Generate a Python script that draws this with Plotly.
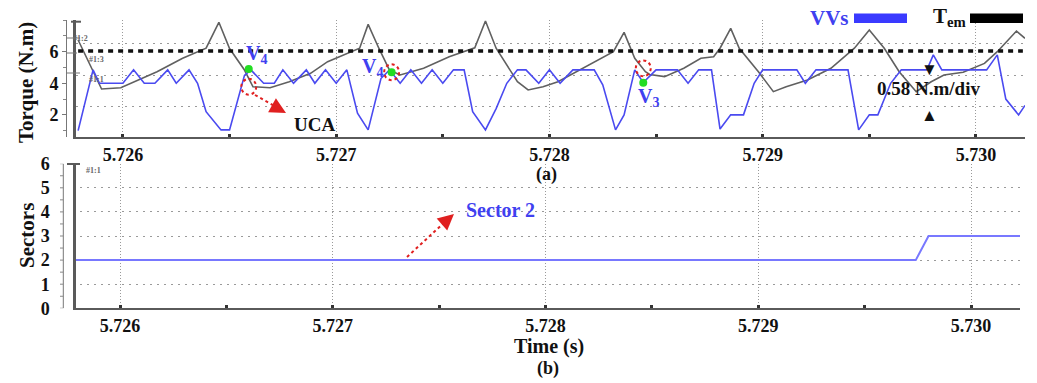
import plotly.graph_objects as go

W, H = 1037, 383

# ---- data -------------------------------------------------------------
# Voltage vectors applied (scaled onto the torque axis)
vvs_t = [5.72579, 5.72586, 5.72589, 5.72600, 5.72605, 5.72610, 5.72615, 5.72621,
         5.72625, 5.72631, 5.72635, 5.72639, 5.72646, 5.72650, 5.72657, 5.72660,
         5.72666, 5.72671, 5.72675, 5.72680, 5.72686, 5.72690, 5.72695, 5.72700,
         5.72705, 5.72710, 5.72715, 5.72721, 5.72725, 5.72730, 5.72735, 5.72740,
         5.72745, 5.72750, 5.72755, 5.72760, 5.72764, 5.72770, 5.72775, 5.72780,
         5.72785, 5.72789, 5.72795, 5.72800, 5.72805, 5.72811, 5.72821, 5.72825,
         5.72831, 5.72835, 5.72840, 5.72844, 5.72850, 5.72860, 5.72865, 5.72870,
         5.72876, 5.72880, 5.72885, 5.72891, 5.72896, 5.72900, 5.72916, 5.72920,
         5.72925, 5.72940, 5.72945, 5.72950, 5.72954, 5.72960, 5.72965, 5.72977,
         5.72980, 5.72984, 5.73005, 5.73010, 5.73014, 5.73020, 5.73023]
vvs_val = [1.0, 4.85, 4.0, 4.0, 4.85, 4.0, 4.0, 4.85,
           4.0, 4.85, 4.0, 2.2, 1.05, 1.05, 4.5, 4.85,
           4.0, 4.0, 4.85, 4.0, 4.85, 4.0, 4.85, 4.0,
           4.85, 2.1, 1.05, 4.3, 4.85, 4.0, 4.85, 4.0,
           4.85, 4.0, 4.85, 4.85, 2.2, 1.05, 2.4, 4.0,
           4.85, 4.85, 4.0, 4.85, 4.0, 4.85, 4.85, 3.9,
           1.05, 2.0, 4.85, 4.05, 4.85, 4.85, 4.0, 4.85,
           4.85, 1.1, 2.0, 2.0, 4.0, 4.85, 4.85, 4.0,
           4.85, 4.85, 1.05, 2.0, 2.0, 4.0, 4.85, 4.85,
           5.8, 4.85, 4.85, 5.8, 3.0, 2.0, 2.6]

# Electromagnetic torque
tem_t = [5.72579, 5.72590, 5.72599, 5.72607, 5.72616, 5.72622, 5.72628, 5.72639,
         5.72645, 5.72650, 5.72657, 5.72661, 5.72669, 5.72678, 5.72688, 5.72696,
         5.72711, 5.72715, 5.72720, 5.72725, 5.72730, 5.72741, 5.72753, 5.72765,
         5.72770, 5.72775, 5.72785, 5.72790, 5.72797, 5.72804, 5.72810, 5.72819,
         5.72830, 5.72835, 5.72840, 5.72845, 5.72847, 5.72854, 5.72863, 5.72871,
         5.72877, 5.72880, 5.72885, 5.72889, 5.72898, 5.72905, 5.72911, 5.72921,
         5.72932, 5.72943, 5.72950, 5.72957, 5.72964, 5.72972, 5.72979, 5.72985,
         5.72994, 5.73004, 5.73010, 5.73019, 5.73023]
tem_val = [6.74, 3.64, 3.72, 4.21, 4.73, 5.16, 5.58, 6.22,
           7.86, 6.2, 4.84, 3.78, 3.72, 4.1, 4.63, 5.37,
           6.22, 7.73, 6.22, 4.84, 4.53, 4.95, 5.68, 6.25,
           7.94, 6.22, 4.1, 3.58, 3.78, 4.1, 4.53, 5.16,
           6.0, 7.22, 5.58, 4.73, 4.56, 4.42, 4.95, 5.58,
           5.68, 6.22, 7.48, 6.22, 4.73, 3.47, 3.78, 4.21,
           4.95, 6.22, 7.37, 6.22, 4.73, 3.47, 4.1, 4.53,
           4.7, 5.26, 6.0, 7.31, 6.85]

# Torque reference
ref_t = [5.72579, 5.73022]
ref_val = [6.04, 6.04]

# Sector number
sector_t = [5.72578, 5.72974, 5.72980, 5.73023]
sector_val = [2, 2, 3, 3]

# Highlighted switching instants
pt_t = [5.72659, 5.72726, 5.72844]
pt_val = [4.9, 4.7, 4.04]
ring_t = [5.72659, 5.72726, 5.72844]
ring_val = [3.78, 4.7, 4.95]

x_range = [5.72578, 5.73023]
torque_range = [0.6, 8.0]
torque_grid = [2.52, 4.52, 6.52]
torque_labels = [2, 4, 6]
sector_range = [0, 6]
sector_labels = [0, 1, 2, 3, 4, 5, 6]

# ---- helpers ----------------------------------------------------------
def px(x):
    return x / W


def py(y):
    return 1 - y / H


FONT = "Liberation Serif"
BLUE = "#4040f0"
AXIS = "#5a5a5a"
GRID = "#9a9a9a"

fig = go.Figure()

fig.add_trace(go.Scatter(x=tem_t, y=tem_val, mode="lines",
                         line=dict(color="#606060", width=1.6),
                         hoverinfo="skip", showlegend=False))
fig.add_trace(go.Scatter(x=vvs_t, y=vvs_val, mode="lines",
                         line=dict(color="#4a4af0", width=1.6),
                         hoverinfo="skip", showlegend=False))
fig.add_trace(go.Scatter(x=ref_t, y=ref_val, mode="lines", yaxis="y3",
                         line=dict(color="#111111", width=3.4, dash="5px,5px"),
                         hoverinfo="skip", showlegend=False))
fig.add_trace(go.Scatter(x=pt_t, y=pt_val, mode="markers",
                         marker=dict(color="#22dd22", size=8),
                         hoverinfo="skip", showlegend=False, cliponaxis=False))
fig.add_trace(go.Scatter(x=sector_t, y=sector_val, mode="lines",
                         xaxis="x2", yaxis="y2",
                         line=dict(color="#7878ff", width=2),
                         hoverinfo="skip", showlegend=False))

tickfont = dict(family=FONT, size=18, color="#111111", weight="bold")

xcommon = dict(range=x_range, tickmode="linear", tick0=5.726, dtick=0.001,
               tickformat=".3f", tickfont=tickfont, showgrid=True,
               gridcolor=GRID, griddash="1px,2px", gridwidth=1,
               showline=True, linecolor=AXIS, linewidth=2,
               ticks="inside", ticklen=3, tickwidth=3, tickcolor="#333333",
               minor=dict(dtick=0.0005, ticks="inside", ticklen=3, tickwidth=3,
                          tickcolor="#333333", showgrid=False),
               zeroline=False, fixedrange=True, automargin=False)

fig.update_layout(
    width=W, height=H,
    margin=dict(l=0, r=0, t=0, b=0, autoexpand=False),
    paper_bgcolor="white", plot_bgcolor="white",
    showlegend=False,
    xaxis=dict(domain=[px(76), px(1025)], anchor="y", **xcommon),
    yaxis=dict(domain=[py(137), py(20.1)], range=torque_range, tickmode="array",
               tickvals=torque_grid, showticklabels=False, ticks="",
               showgrid=True, gridcolor=GRID, griddash="2px,5px", gridwidth=1.2,
               showline=True, linecolor=AXIS, linewidth=2.5, zeroline=False,
               fixedrange=True, automargin=False),
    yaxis3=dict(overlaying="y", anchor="free", position=px(66), range=torque_range,
                tickmode="array", tickvals=torque_labels, tickfont=tickfont,
                showgrid=False, showline=True, linecolor="#777777", linewidth=1,
                ticks="outside", ticklen=4, tickcolor="#777777",
                minor=dict(dtick=1, ticks="outside", ticklen=3, tickcolor="#888888"),
                zeroline=False, fixedrange=True, automargin=False),
    xaxis2=dict(domain=[px(73.3), px(1020)], anchor="y2", **xcommon),
    yaxis2=dict(domain=[py(308.3), py(163.7)], range=sector_range, tickmode="array",
                tickvals=sector_labels, tickfont=tickfont, ticks="",
                ticklabelstandoff=20,
                showgrid=True, gridcolor=GRID, griddash="2px,5px", gridwidth=1.2,
                showline=True, linecolor=AXIS, linewidth=2.5, zeroline=False,
                fixedrange=True, automargin=False),
)

shapes = []
# caps on the channel markers
shapes.append(dict(type="line", xref="paper", yref="paper", x0=px(71), x1=px(81),
                   y0=py(21.7), y1=py(21.7), line=dict(color=AXIS, width=2)))
shapes.append(dict(type="line", xref="paper", yref="paper", x0=px(67), x1=px(80),
                   y0=py(164), y1=py(164), line=dict(color=AXIS, width=2)))
# thin scale line of the sector channel with its half-step ticks
shapes.append(dict(type="line", xref="paper", yref="y2", x0=px(63.3), x1=px(63.3),
                   y0=sector_range[0], y1=sector_range[1],
                   line=dict(color="#777777", width=1)))
for k in range(2 * sector_range[1] + 1):
    shapes.append(dict(type="line", xref="paper", yref="y2", x0=px(60), x1=px(63.3),
                       y0=k / 2, y1=k / 2, line=dict(color="#888888", width=1)))
# cursor ticks
for yy, x1 in [(38, 80), (53, 77), (73, 80)]:
    shapes.append(dict(type="line", xref="paper", yref="paper", x0=px(66), x1=px(x1),
                       y0=py(yy), y1=py(yy), line=dict(color="#777777", width=1)))
# dashed rings around switching instants
rx, ry = 0.0000350, 0.50
for t, v in zip(ring_t, ring_val):
    shapes.append(dict(type="circle", xref="x", yref="y", x0=t - rx, x1=t + rx,
                       y0=v - ry, y1=v + ry, line=dict(color="#e02020", width=2, dash="dot")))
# dashed arrow shafts
shapes.append(dict(type="line", xref="paper", yref="paper", x0=px(255), y0=py(95),
                   x1=px(280), y1=py(109), line=dict(color="#e02020", width=2, dash="dot")))
shapes.append(dict(type="line", xref="paper", yref="paper", x0=px(407), y0=py(257),
                   x1=px(447), y1=py(220), line=dict(color="#e02020", width=2, dash="dot")))
# legend swatches
shapes.append(dict(type="rect", xref="paper", yref="paper", x0=px(854), x1=px(907),
                   y0=py(23), y1=py(13.5), line=dict(width=0), fillcolor="#3a3aff"))
shapes.append(dict(type="rect", xref="paper", yref="paper", x0=px(970), x1=px(1023),
                   y0=py(23), y1=py(13.5), line=dict(width=0), fillcolor="#000000"))
fig.update_layout(shapes=shapes)

ann = []


def text(x, y, s, size=18, color="#111111", bold=True, xanchor="center", **kw):
    ann.append(dict(x=px(x), y=py(y), xref="paper", yref="paper",
                    text=("<b>%s</b>" % s) if bold else s,
                    showarrow=False, xanchor=xanchor, yanchor="middle",
                    font=dict(family=FONT, size=size, color=color), **kw))


text(26, 83, "Torque (N.m)", size=21, textangle=-90)
text(27, 236, "Sectors", size=21, textangle=-90)
text(546, 175, "(a)", size=18)
text(549, 346, "Time (s)", size=20)
text(548, 368, "(b)", size=18)
text(851, 18, "VVs", size=21, color=BLUE, xanchor="right")
text(931, 17, "T<sub>em</sub>", size=21, xanchor="left")
text(256, 54, "V<sub>4</sub>", size=20, color=BLUE)
text(372, 67, "V<sub>4</sub>", size=20, color=BLUE)
text(648, 97, "V<sub>3</sub>", size=20, color=BLUE)
text(314, 124, "UCA", size=19)
text(928, 89, "0.58 N.m/div", size=19)
text(929, 69, "▼", size=17, bold=False)
text(929, 116, "▲", size=17, bold=False)
text(500, 210, "Sector 2", size=20, color=BLUE)
for x, y, s in [(80, 38, "#1:2"), (96, 59, "#1:3"), (96, 79, "#1:1"), (93, 170, "#1:1")]:
    text(x, y, s, size=8, color="#666666")

# arrow heads
ann.append(dict(x=px(286), y=py(113), xref="paper", yref="paper", ax=-9, ay=-5,
                text="", showarrow=True, arrowhead=2, arrowsize=1.6, arrowwidth=2,
                arrowcolor="#e02020", standoff=0))
ann.append(dict(x=px(454), y=py(214), xref="paper", yref="paper", ax=-8, ay=7,
                text="", showarrow=True, arrowhead=2, arrowsize=1.6, arrowwidth=2,
                arrowcolor="#e02020", standoff=0))
fig.update_layout(annotations=ann)

fig.write_html("out.html")
